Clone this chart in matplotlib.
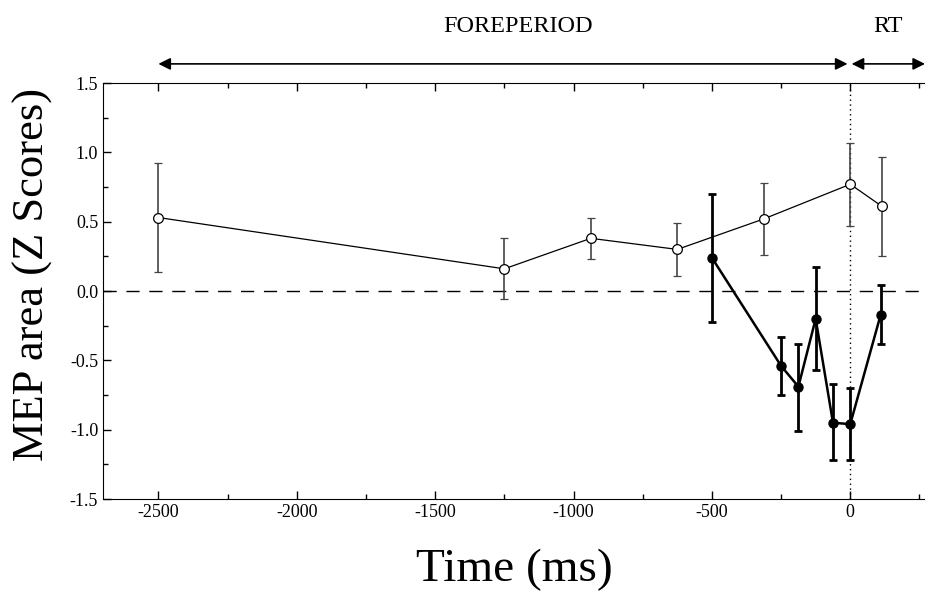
import matplotlib.pyplot as plt
from matplotlib.ticker import MultipleLocator

plt.rcParams['font.family'] = ['Liberation Serif', 'DejaVu Serif']
plt.rcParams['axes.unicode_minus'] = False

# open circles (control)
t_open = [-2500, -1250, -937.5, -625, -312.5, 0, 115]
z_open = [0.53, 0.16, 0.38, 0.30, 0.52, 0.77, 0.61]
hi_open = [0.92, 0.38, 0.53, 0.49, 0.78, 1.07, 0.97]
lo_open = [0.14, -0.06, 0.23, 0.11, 0.26, 0.47, 0.25]

# filled circles
t_fill = [-500, -250, -187.5, -125, -62.5, 0, 110]
z_fill = [0.24, -0.54, -0.69, -0.20, -0.95, -0.96, -0.17]
hi_fill = [0.70, -0.33, -0.38, 0.17, -0.67, -0.70, 0.04]
lo_fill = [-0.22, -0.75, -1.01, -0.57, -1.22, -1.22, -0.38]

fig = plt.figure(figsize=(9.25, 5.93), dpi=100)
ax = fig.add_axes([0.1114, 0.1585, 0.8886, 0.7015])

ax.axhline(0, color='black', lw=1, ls=(0, (9.5, 7)))
ax.axvline(0, color='black', lw=1, ls=(0, (1, 2.5)))

err_o = [[z - l for z, l in zip(z_open, lo_open)], [h - z for z, h in zip(z_open, hi_open)]]
ax.errorbar(t_open, z_open, yerr=err_o, color='black', lw=0.9, ecolor='#444444',
            elinewidth=1.2, capsize=3, capthick=1.2, marker='o', ms=7,
            mfc='white', mec='black', mew=0.9, zorder=3)

err_f = [[z - l for z, l in zip(z_fill, lo_fill)], [h - z for z, h in zip(z_fill, hi_fill)]]
ax.errorbar(t_fill, z_fill, yerr=err_f, color='black', lw=1.8, elinewidth=2,
            capsize=3, capthick=2, marker='o', ms=6.5, mfc='black', mec='black',
            zorder=4)

ax.set_xlim(-2700, 270)
ax.set_ylim(-1.5, 1.5)
ax.xaxis.set_major_locator(MultipleLocator(500))
ax.xaxis.set_minor_locator(MultipleLocator(250))
ax.yaxis.set_major_locator(MultipleLocator(0.5))
ax.yaxis.set_minor_locator(MultipleLocator(0.25))
ax.yaxis.set_major_formatter(plt.FuncFormatter(lambda v, p: '%.1f' % v))
ax.tick_params(which='both', direction='in', top=True, right=False, labelsize=13)
ax.tick_params(which='major', length=6, width=1)
ax.tick_params(which='minor', length=3.5, width=1)
ax.spines['right'].set_visible(False)

ax.set_xlabel('Time (ms)', fontsize=34, labelpad=20)
ax.set_ylabel('MEP area (Z Scores)', fontsize=32)
ax.yaxis.set_label_coords(-0.061, 0.54)

# period arrows above the plot
arrow = dict(arrowstyle='<|-|>', color='black', lw=1.2, mutation_scale=18,
             shrinkA=0, shrinkB=0)
ax.annotate('', xy=(-2500, 1.046), xytext=(-10, 1.046),
            xycoords=('data', 'axes fraction'), textcoords=('data', 'axes fraction'),
            arrowprops=arrow, annotation_clip=False)
ax.annotate('', xy=(5, 1.046), xytext=(270, 1.046),
            xycoords=('data', 'axes fraction'), textcoords=('data', 'axes fraction'),
            arrowprops=arrow, annotation_clip=False)
ax.text(-1200, 1.135, 'FOREPERIOD', transform=ax.get_xaxis_transform(),
        ha='center', va='center', fontsize=17.5)
ax.text(138, 1.135, 'RT', transform=ax.get_xaxis_transform(),
        ha='center', va='center', fontsize=17.5)

fig.savefig('out.png', dpi=100)
